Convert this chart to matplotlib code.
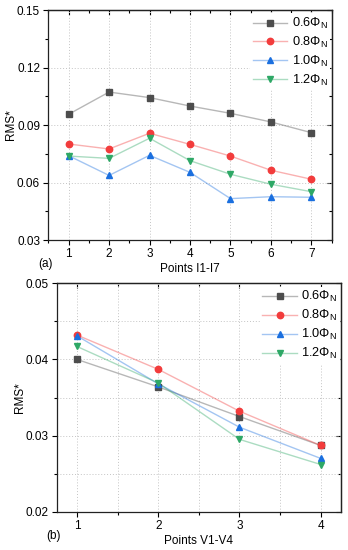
import matplotlib
matplotlib.use('Agg')
from matplotlib import pyplot as plt
from matplotlib.ticker import MultipleLocator

plt.rcParams['font.family'] = ['Liberation Sans', 'DejaVu Sans']
plt.rcParams['mathtext.fontset'] = 'custom'
plt.rcParams['mathtext.rm'] = 'Liberation Sans'
plt.rcParams['mathtext.it'] = 'Liberation Sans:italic'

FS = 8.5

# series labels and styles
labels = ['0.6Φ$_\\mathrm{N}$', '0.8Φ$_\\mathrm{N}$', '1.0Φ$_\\mathrm{N}$', '1.2Φ$_\\mathrm{N}$']
colors = ['#4d4d4d', '#f23c3c', '#1a6fdf', '#2ea866']
markers = ['s', 'o', '^', 'v']

# (a) points I1-I7
points_a = [1, 2, 3, 4, 5, 6, 7]
rms_a_06 = [0.0956, 0.1072, 0.1043, 0.0999, 0.0961, 0.0916, 0.0860]
rms_a_08 = [0.0801, 0.0775, 0.0857, 0.0799, 0.0738, 0.0664, 0.0617]
rms_a_10 = [0.0740, 0.0637, 0.0742, 0.0653, 0.0516, 0.0526, 0.0523]
rms_a_12 = [0.0738, 0.0726, 0.0831, 0.0714, 0.0643, 0.0591, 0.0552]

# (b) points V1-V4
points_b = [1, 2, 3, 4]
rms_b_06 = [0.0400, 0.0364, 0.0325, 0.0287]
rms_b_08 = [0.0432, 0.0387, 0.0332, 0.0287]
rms_b_10 = [0.0431, 0.0368, 0.0311, 0.0270]
rms_b_12 = [0.0417, 0.0369, 0.0295, 0.0262]


def style_ticks(axis_obj, direction):
    axis_obj.tick_params(which='both', direction=direction, width=0.8)
    axis_obj.tick_params(which='major', length=3.5)
    axis_obj.tick_params(which='minor', length=2)


def draw_panel(ax, x, series, xlim, ylim, ystep, xlabel, tag, minor_grid,
               ylab_x, leg_anchor):
    handles = []
    for vals, c, m in zip(series, colors, markers):
        ln, = ax.plot(x, vals, color=c, alpha=0.4, lw=1.0, zorder=2)
        mk, = ax.plot(x, vals, ls='none', marker=m, ms=4.6, color=c, zorder=3)
        handles.append((ln, mk))
    ax.set_xlim(*xlim)
    ax.set_ylim(*ylim)
    ax.xaxis.set_major_locator(MultipleLocator(1))
    ax.xaxis.set_minor_locator(MultipleLocator(0.5))
    ax.yaxis.set_major_locator(MultipleLocator(ystep))
    ax.yaxis.set_minor_locator(MultipleLocator(ystep / 2))
    style_ticks(ax, 'out')
    ax.tick_params(which='both', labelsize=FS, pad=2.5)
    for s in ax.spines.values():
        s.set_linewidth(0.9)
        s.set_color('#222222')

    # inward ticks on top and right
    sec_x = ax.secondary_xaxis('top')
    sec_x.xaxis.set_major_locator(MultipleLocator(1))
    sec_x.xaxis.set_minor_locator(MultipleLocator(0.5))
    style_ticks(sec_x, 'in')
    sec_x.tick_params(labeltop=False)
    sec_y = ax.secondary_yaxis('right')
    sec_y.yaxis.set_major_locator(MultipleLocator(ystep))
    sec_y.yaxis.set_minor_locator(MultipleLocator(ystep / 2))
    style_ticks(sec_y, 'in')
    sec_y.tick_params(labelright=False)
    for sec in (sec_x, sec_y):
        for s in sec.spines.values():
            s.set_linewidth(0.9)
            s.set_color('#222222')

    ax.grid(True, which='major', ls=(0, (1, 2)), lw=0.7, color='#c4c4c4')
    if minor_grid:
        ax.grid(True, which='minor', ls=(0, (1, 2)), lw=0.7, color='#c4c4c4')
    ax.set_axisbelow(True)

    ax.set_xlabel(xlabel, fontsize=FS, labelpad=2)
    ax.set_ylabel('RMS*', fontsize=FS)
    ax.yaxis.set_label_coords(ylab_x, 0.5)
    ax.text(-0.01, -0.105, tag, transform=ax.transAxes, fontsize=FS,
            ha='center', va='center')

    leg = ax.legend(handles, labels, loc='upper right', fontsize=9.2,
                    bbox_to_anchor=leg_anchor, frameon=True,
                    handlelength=2.7, handletextpad=0.35, labelspacing=0.3,
                    borderaxespad=0.0, borderpad=0.2)
    leg.get_frame().set_edgecolor('none')
    leg.get_frame().set_facecolor('white')
    leg.get_frame().set_alpha(1.0)
    return leg


fig = plt.figure(figsize=(3.48, 5.5), dpi=100)
ax1 = fig.add_axes([0.139, 0.5636, 0.814, 0.4182])
ax2 = fig.add_axes([0.163, 0.0696, 0.817, 0.4153])

draw_panel(ax1, points_a, [rms_a_06, rms_a_08, rms_a_10, rms_a_12],
           (0.5, 7.5), (0.03, 0.15), 0.03, 'Points I1-I7', '(a)', False,
           -0.112, (0.995, 0.985))
draw_panel(ax2, points_b, [rms_b_06, rms_b_08, rms_b_10, rms_b_12],
           (0.75, 4.25), (0.02, 0.05), 0.01, 'Points V1-V4', '(b)', True,
           -0.109, (0.995, 0.985))

fig.savefig('out.png', dpi=100)
